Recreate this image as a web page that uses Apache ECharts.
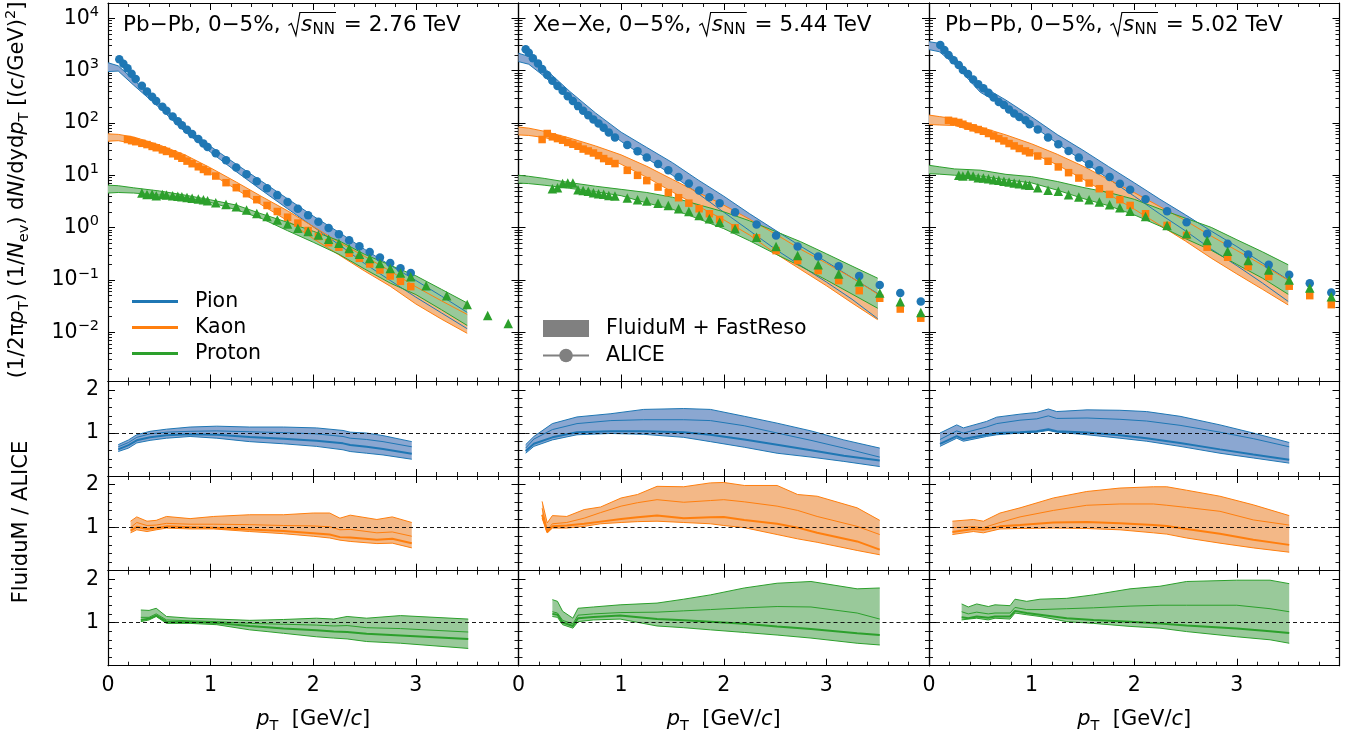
<!DOCTYPE html>
<html><head><meta charset="utf-8">
<script src="https://cdn.jsdelivr.net/npm/echarts@6/dist/echarts.min.js"></script>
<style>html,body{margin:0;padding:0;background:#fff}#c{width:1359px;height:740px}</style>
</head><body><div id="c"></div>
<script>
// ---------------- DATA ----------------
const SPECIES = ['Pion', 'Kaon', 'Proton'];
const PANEL_SYSTEMS = ['Pb−Pb, 0−5%, ', 'Xe−Xe, 0−5%, ', 'Pb−Pb, 0−5%, '];
const PANEL_ENERGIES = ['2.76', '5.44', '5.02'];
const LOG_DECADES = [-2, -1, 0, 1, 2, 3, 4];      // tick labels 10^n
const RATIO_TICK_LABELS = [1, 2];
const PT_TICK_LABELS = [0, 1, 2, 3];

// ALICE spectra, Pb-Pb 2.76 TeV
const pt276 = [0.11,0.15,0.19,0.23,0.27,0.33,0.38,0.43,0.47,0.53,0.57,0.63,0.68,0.72,0.77,0.82,0.88,0.93,0.97,
  1.05,1.15,1.25,1.35,1.45,1.55,1.65,1.75,1.85,1.95,2.05,2.15,2.25,2.35,2.45,2.55,2.65,2.75,2.85,2.95,3.1,3.3,3.5,3.7,3.9];
const pion276 = [1640,1350,1100,871,692,513,398,316,263,204,170,132,107,90.2,74.1,61.0,49.0,40.3,34.7,
  26.3,19.3,14.1,10.5,7.67,5.62,4.17,3.09,2.29,1.72,1.29,0.977,0.750,0.575,0.442,0.343,0.269,0.211,0.168,0.135,null,null,null,null,null];
const kaon276 = [null,null,48.1,45.7,43.7,40.7,38.5,35.5,33.5,30.5,28.5,25.7,23.2,21.1,18.6,16.6,14.5,12.9,11.7,
  9.66,7.21,5.78,4.44,3.41,2.65,2.03,1.58,1.22,0.879,0.676,0.513,0.422,0.324,0.259,0.202,0.155,0.119,0.094,0.0745,null,null,null,null,null];
const proton276 = [null,null,null,null,null,4.57,4.27,4.32,4.07,4.27,4.17,4.07,3.98,3.89,3.76,3.63,3.51,3.39,3.27,
  2.99,2.75,2.51,2.17,1.86,1.62,1.40,1.175,0.970,0.838,0.724,0.598,0.501,0.398,0.309,0.257,0.207,0.166,0.136,0.115,0.0776,0.0501,0.0339,0.0209,0.0148];

// ALICE spectra, Xe-Xe 5.44 TeV
const pt544 = [0.07,0.10,0.14,0.19,0.23,0.28,0.33,0.38,0.43,0.48,0.53,0.58,0.63,0.68,0.73,0.78,0.83,0.88,0.94,
  1.06,1.16,1.25,1.36,1.46,1.56,1.66,1.76,1.86,1.96,2.11,2.32,2.51,2.72,2.92,3.12,3.32,3.52,3.72,3.92];
const pion544 = [2550,2190,1710,1370,1070,820,638,505,410,324,263,209,170,140,116,97.7,80.4,65.5,52.5,
  38.0,28.8,21.9,16.4,12.4,9.25,6.92,5.13,3.80,2.93,1.97,1.15,0.708,0.437,0.279,0.182,0.119,0.0802,0.0562,0.0389];
const kaon544 = [null,null,null,null,48.1,62.7,54.1,50.1,46.7,42.2,39.1,35.8,31.6,29.1,26.6,23.7,20.8,18.5,16.7,
  12.4,9.95,7.89,5.94,4.65,3.72,2.93,2.29,1.84,1.43,0.991,0.637,0.363,0.234,0.151,0.097,0.0624,0.0447,0.0278,0.0186];
const proton544 = [null,null,null,null,null,null,5.53,5.78,6.92,7.08,7.08,5.30,5.13,4.92,4.65,4.45,4.31,4.12,4.00,
  3.66,3.41,3.21,2.93,2.65,2.29,2.03,1.71,1.48,1.27,0.948,0.655,0.435,0.292,0.194,0.130,0.0927,0.0562,0.0384,0.0240];

// ALICE spectra, Pb-Pb 5.02 TeV
const pt502 = [0.11,0.15,0.19,0.24,0.29,0.33,0.38,0.43,0.48,0.53,0.58,0.63,0.68,0.73,0.78,0.83,0.88,0.94,0.98,
  1.06,1.16,1.26,1.36,1.46,1.56,1.66,1.76,1.86,1.96,2.11,2.32,2.51,2.71,2.91,3.11,3.31,3.51,3.71,3.92];
const pion502 = [3080,2470,1980,1580,1270,1020,857,676,550,457,376,307,251,219,180,151,130,112,94.4,
  74.6,52.5,38.9,29.1,21.7,16.2,12.4,9.25,6.90,5.30,3.47,2.06,1.26,0.759,0.490,0.305,0.196,0.126,0.0861,0.0575];
const kaon502 = [null,null,112,107,102,94.4,86.5,80.4,74.6,69.2,62.7,56.2,50.1,45.2,40.3,36.3,32.4,29.1,26.9,
  23.3,18.5,14.4,11.2,8.83,7.08,5.53,4.31,3.41,2.65,1.84,1.10,0.708,0.422,0.271,0.180,0.116,0.0759,0.0501,0.0337];
const proton502 = [null,null,null,null,9.95,9.66,10.3,9.66,8.99,8.83,8.61,8.24,7.98,7.64,7.41,7.10,6.90,6.61,6.41,
  5.78,5.14,4.92,4.25,3.82,3.41,3.07,2.74,2.39,2.06,1.63,1.10,0.759,0.566,0.353,0.234,0.155,0.100,0.0703,0.0479];

// FluiduM + FastReso model bands (lower / upper edge)
const MODEL_PT = [0,0.1,0.25,0.5,0.75,1.0,1.25,1.5,1.75,2.0,2.25,2.5,2.75,3.0,3.25,3.5];
const m276PionLo = [955,977,525,195,67.6,27.5,11.7,5.13,2.29,1.035,0.473,0.206,0.0977,0.0468,0.0234,0.0117];
const m276PionHi = [1410,1230,661,245,85.1,35.5,16.2,7.59,3.55,1.66,0.813,0.385,0.191,0.0977,0.049,0.024];
const m276KaonLo = [44.7,45.7,40.7,30.9,19.5,10.7,5.37,2.69,1.35,0.617,0.302,0.148,0.0759,0.0347,0.0178,0.00955];
const m276KaonHi = [61.7,60.3,53.7,38.0,24.5,13.8,7.41,3.89,2.09,1.047,0.525,0.282,0.148,0.0741,0.0398,0.0219];
const m276ProtonLo = [4.57,4.68,4.57,4.17,3.72,3.02,2.19,1.48,0.871,0.525,0.309,0.162,0.0871,0.0525,0.0269,0.0135];
const m276ProtonHi = [6.46,6.31,5.75,5.01,4.17,3.39,2.69,1.82,1.26,0.851,0.562,0.309,0.191,0.120,0.0661,0.0363];
const m544PionLo = [1480,1320,776,275,106,44.3,21.2,10.0,4.47,1.97,0.877,0.389,0.187,0.0912,0.0427,0.0182];
const m544PionHi = [2140,1860,1120,398,155,66.5,33.9,17.4,8.13,3.98,1.85,0.897,0.440,0.223,0.110,0.0550];
const m544KaonLo = [58.9,57.5,52.5,40.7,26.9,16.2,9.12,4.79,2.57,1.41,0.724,0.324,0.158,0.0776,0.0363,0.0174];
const m544KaonHi = [83.2,79.4,69.2,51.3,36.3,24.5,14.8,8.32,4.68,2.69,1.45,0.759,0.385,0.209,0.110,0.0537];
const m544ProtonLo = [7.08,6.92,6.46,5.62,4.84,4.07,2.95,2.24,1.48,0.955,0.562,0.316,0.182,0.100,0.0537,0.0288];
const m544ProtonHi = [10.0,9.55,8.71,7.24,6.17,5.37,4.68,3.80,2.75,2.0,1.35,0.851,0.537,0.316,0.184,0.108];
const m502PionLo = [2510,2290,1320,384,200,91.0,40.6,18.7,8.51,3.98,1.82,0.863,0.387,0.187,0.0871,0.0389];
const m502PionHi = [3550,3310,1780,527,272,130,59.7,30.1,14.6,7.19,3.48,1.75,0.857,0.434,0.210,0.100];
const m502KaonLo = [93.3,91.2,89.1,64.6,42.7,26.7,15.8,8.45,4.33,2.25,1.11,0.551,0.261,0.130,0.0661,0.0333];
const m502KaonHi = [141,132,120,83.2,58.9,39.8,25.1,14.9,8.30,4.66,2.51,1.36,0.689,0.365,0.192,0.0993];
const m502ProtonLo = [10.7,10.5,10.0,9.62,8.15,7.14,5.19,3.60,2.62,1.75,1.07,0.614,0.369,0.198,0.108,0.0532];
const m502ProtonHi = [15.5,14.5,13.2,12.5,10.4,9.38,7.59,5.85,4.68,3.47,2.26,1.51,1.01,0.585,0.344,0.195];

// FluiduM / ALICE ratio bands: pT, lower, upper, two inner curves
const r276PionPt = [0.1,0.2,0.28,0.41,0.57,0.80,1.06,1.38,1.71,2.03,2.29,2.36,2.52,2.68,2.96];
const r276PionLo = [0.57,0.65,0.77,0.83,0.88,0.92,0.88,0.80,0.75,0.69,0.61,0.57,0.53,0.49,0.39];
const r276PionHi = [0.73,0.84,0.96,1.04,1.09,1.14,1.16,1.14,1.14,1.12,1.06,1.02,1.0,0.94,0.80];
const r276PionA = [0.68,0.78,0.90,0.98,1.02,1.04,1.05,1.03,1.01,0.98,0.92,0.88,0.85,0.80,0.68];
const r276PionB = [0.62,0.72,0.83,0.90,0.95,0.97,0.96,0.91,0.87,0.82,0.76,0.72,0.68,0.63,0.52];
const r276KaonPt = [0.22,0.28,0.38,0.47,0.57,0.80,1.03,1.38,1.71,2.00,2.16,2.26,2.36,2.62,2.77,2.96];
const r276KaonLo = [0.88,0.95,0.91,0.95,0.99,0.97,0.97,0.91,0.86,0.80,0.76,0.71,0.68,0.63,0.64,0.53];
const r276KaonHi = [1.15,1.25,1.15,1.17,1.26,1.21,1.26,1.30,1.30,1.34,1.34,1.22,1.29,1.19,1.25,1.12];
const r276KaonA = [1.00,1.12,1.05,1.06,1.10,1.08,1.08,1.07,1.05,1.04,1.02,0.95,0.96,0.88,0.90,0.80];
const r276KaonB = [0.93,1.02,0.97,0.99,1.03,1.01,1.00,0.96,0.92,0.87,0.84,0.78,0.77,0.72,0.74,0.64];
const r276ProtonPt = [0.32,0.40,0.47,0.57,0.80,1.06,1.38,1.55,1.71,2.03,2.20,2.33,2.52,2.85,3.51];
const r276ProtonLo = [1.02,1.06,1.14,0.98,0.98,0.95,0.83,0.79,0.75,0.67,0.64,0.62,0.56,0.52,0.40];
const r276ProtonHi = [1.29,1.28,1.33,1.14,1.10,1.08,1.05,1.06,1.07,1.10,1.08,1.14,1.10,1.16,1.08];
const r276ProtonA = [1.12,1.12,1.20,1.06,1.04,1.02,0.98,0.97,0.96,0.94,0.92,0.93,0.88,0.86,0.78];
const r276ProtonB = [1.06,1.09,1.16,1.02,1.01,0.99,0.92,0.89,0.86,0.82,0.79,0.78,0.74,0.70,0.62];

const r544PionPt = [0.07,0.15,0.33,0.57,0.90,1.22,1.61,1.87,2.20,2.52,2.85,3.17,3.52];
const r544PionLo = [0.53,0.69,0.84,0.96,0.99,0.97,0.90,0.80,0.67,0.53,0.44,0.34,0.22];
const r544PionHi = [0.73,0.92,1.22,1.375,1.45,1.55,1.57,1.55,1.39,1.23,1.05,0.84,0.65];
const r544PionA = [0.65,0.86,1.08,1.22,1.29,1.31,1.31,1.29,1.17,1.00,0.83,0.65,0.44];
const r544PionB = [0.58,0.75,0.90,1.02,1.04,1.04,1.02,0.96,0.85,0.73,0.60,0.47,0.36];
const r544KaonPt = [0.23,0.28,0.33,0.47,0.64,0.80,1.00,1.16,1.35,1.61,1.87,2.00,2.20,2.52,2.72,2.91,3.30,3.52];
const r544KaonLo = [1.22,0.88,0.99,0.99,1.03,1.09,1.12,1.14,1.15,1.12,1.09,1.05,1.00,0.84,0.74,0.66,0.47,0.37];
const r544KaonHi = [1.61,1.11,1.28,1.26,1.42,1.48,1.69,1.77,1.96,1.95,2.04,2.05,1.98,1.98,1.77,1.73,1.46,1.17];
const r544KaonA = [1.45,0.95,1.09,1.12,1.22,1.35,1.50,1.58,1.65,1.59,1.63,1.65,1.60,1.50,1.40,1.26,1.03,0.84];
const r544KaonB = [1.30,0.90,1.03,1.05,1.09,1.14,1.20,1.24,1.28,1.22,1.24,1.25,1.18,1.09,1.00,0.88,0.68,0.49];
const r544ProtonPt = [0.33,0.38,0.43,0.53,0.58,0.73,0.99,1.35,1.61,1.87,2.20,2.52,2.85,3.30,3.52];
const r544ProtonLo = [1.14,1.12,0.95,0.87,1.02,1.06,1.08,0.92,0.88,0.83,0.77,0.71,0.64,0.52,0.48];
const r544ProtonHi = [1.53,1.49,1.26,1.10,1.33,1.36,1.41,1.45,1.54,1.64,1.80,1.91,1.95,1.78,1.80];
const r544ProtonA = [1.25,1.22,1.05,0.97,1.17,1.20,1.23,1.24,1.27,1.30,1.34,1.37,1.36,1.22,1.08];
const r544ProtonB = [1.20,1.18,1.00,0.92,1.10,1.13,1.16,1.08,1.05,1.02,0.97,0.91,0.85,0.75,0.71];

const r502PionPt = [0.107,0.27,0.335,0.56,0.66,0.887,1.05,1.163,1.244,1.54,1.86,2.12,2.446,2.835,3.16,3.51];
const r502PionLo = [0.69,0.88,0.81,0.92,0.96,1.0,1.02,1.06,1.02,0.96,0.88,0.81,0.69,0.53,0.42,0.30];
const r502PionHi = [1.0,1.19,1.12,1.27,1.37,1.44,1.48,1.56,1.50,1.54,1.53,1.50,1.39,1.19,1.0,0.78];
const r502PionA = [0.85,1.05,1.0,1.14,1.22,1.30,1.33,1.40,1.34,1.35,1.32,1.28,1.18,1.02,0.87,0.68];
const r502PionB = [0.75,0.93,0.86,0.96,1.0,1.02,1.04,1.09,1.04,1.01,0.95,0.88,0.77,0.62,0.50,0.38];
const r502KaonPt = [0.228,0.432,0.53,0.692,0.887,1.212,1.537,1.86,2.187,2.317,2.51,2.835,3.16,3.51];
const r502KaonLo = [0.84,0.91,0.88,0.97,0.98,0.99,0.98,0.95,0.88,0.85,0.76,0.64,0.53,0.43];
const r502KaonHi = [1.15,1.19,1.15,1.34,1.46,1.69,1.84,1.92,1.95,1.95,1.87,1.73,1.53,1.28];
const r502KaonA = [1.00,1.02,1.00,1.12,1.25,1.40,1.52,1.55,1.55,1.52,1.47,1.38,1.18,1.06];
const r502KaonB = [0.90,0.97,0.95,1.03,1.06,1.12,1.13,1.10,1.06,1.04,0.97,0.86,0.72,0.60];
const r502ProtonPt = [0.318,0.383,0.465,0.578,0.643,0.79,0.838,0.952,1.082,1.342,1.602,1.959,2.25,2.51,2.999,3.323,3.51];
const r502ProtonLo = [1.06,1.08,1.10,1.06,1.10,1.08,1.22,1.18,1.14,1.02,0.98,0.91,0.87,0.79,0.67,0.60,0.52];
const r502ProtonHi = [1.43,1.36,1.43,1.37,1.41,1.39,1.54,1.49,1.54,1.56,1.64,1.78,1.84,1.95,1.98,1.98,1.90];
const r502ProtonA = [1.25,1.20,1.24,1.20,1.22,1.22,1.35,1.30,1.30,1.32,1.34,1.38,1.40,1.40,1.40,1.32,1.25];
const r502ProtonB = [1.12,1.10,1.14,1.11,1.14,1.14,1.27,1.22,1.18,1.10,1.06,1.02,0.98,0.93,0.86,0.80,0.76];

// ---------------- TABLES BUILT FROM THE ARRAYS ----------------
const PANELS = [
  { pt: pt276, alice: [pion276, kaon276, proton276],
    model: [[m276PionLo, m276PionHi], [m276KaonLo, m276KaonHi], [m276ProtonLo, m276ProtonHi]],
    ratio: [[r276PionPt, r276PionLo, r276PionHi, r276PionA, r276PionB],
            [r276KaonPt, r276KaonLo, r276KaonHi, r276KaonA, r276KaonB],
            [r276ProtonPt, r276ProtonLo, r276ProtonHi, r276ProtonA, r276ProtonB]] },
  { pt: pt544, alice: [pion544, kaon544, proton544],
    model: [[m544PionLo, m544PionHi], [m544KaonLo, m544KaonHi], [m544ProtonLo, m544ProtonHi]],
    ratio: [[r544PionPt, r544PionLo, r544PionHi, r544PionA, r544PionB],
            [r544KaonPt, r544KaonLo, r544KaonHi, r544KaonA, r544KaonB],
            [r544ProtonPt, r544ProtonLo, r544ProtonHi, r544ProtonA, r544ProtonB]] },
  { pt: pt502, alice: [pion502, kaon502, proton502],
    model: [[m502PionLo, m502PionHi], [m502KaonLo, m502KaonHi], [m502ProtonLo, m502ProtonHi]],
    ratio: [[r502PionPt, r502PionLo, r502PionHi, r502PionA, r502PionB],
            [r502KaonPt, r502KaonLo, r502KaonHi, r502KaonA, r502KaonB],
            [r502ProtonPt, r502ProtonLo, r502ProtonHi, r502ProtonA, r502ProtonB]] }
];

// ---------------- STYLE / LAYOUT ----------------
const FONT = 'DejaVu Sans';
const COLORS = ['#1f77b4', '#ff7f0e', '#2ca02c'];
const FILLS = ['#8ba7d1', '#f3b887', '#99c99a'];
const SYMBOLS = ['circle', 'rect', 'triangle'];
const SYMBOL_SIZES = [8.5, 7.5, 9.5];
const COL_LEFT = [108, 518.5, 929];
const COL_W = 410.5;
const ROWS = [[3, 378.5], [381.5, 94.5], [476, 94.7], [570.7, 95]];
const LOG_MIN = -2.94, LOG_MAX = 4.29;
const RATIO_MIN = 0, RATIO_MAX = 2.2;
const LOG_MINOR = [];
for (let n = -3; n <= 4; n++) for (let k = 2; k <= 9; k++) {
  const v = n + Math.log10(k); if (v > LOG_MIN && v < LOG_MAX) LOG_MINOR.push(v);
}
const RATIO_MAJOR = [0, 1, 2];
const RATIO_MINOR = [0.2, 0.4, 0.6, 0.8, 1.2, 1.4, 1.6, 1.8, 2.2];

const L = v => Math.log10(v);
function pairs(xs, ys, log) {
  const out = [];
  xs.forEach((x, i) => { if (ys[i] != null) out.push([x, log ? L(ys[i]) : ys[i]]); });
  return out;
}
function supNum(e) { return e < 0 ? '−' + (-e) : String(e); }

const grids = [], xAxes = [], yAxes = [], series = [];
const lineAxis = { show: true, onZero: false, lineStyle: { color: '#000', width: 1.2 } };

for (let r = 0; r < 4; r++) for (let c = 0; c < 3; c++) {
  const g = r * 3 + c;
  grids.push({ left: COL_LEFT[c], top: ROWS[r][0], width: COL_W, height: ROWS[r][1] });
  ['bottom', 'top'].forEach(pos => {
    xAxes.push({
      type: 'value', gridIndex: g, position: pos, min: 0, max: 4, interval: 1,
      axisLine: lineAxis,
      axisTick: { show: true, inside: true, length: 7, lineStyle: { color: '#000', width: 1 } },
      minorTick: { show: true, splitNumber: 5, length: 4, lineStyle: { color: '#000', width: 0.9 } },
      axisLabel: { show: pos === 'bottom' && r === 3, color: '#000', fontFamily: FONT, fontSize: 20.5, margin: 9,
        formatter: v => (PT_TICK_LABELS.indexOf(v) >= 0 ? String(v) : '') },
      splitLine: { show: false }, minorSplitLine: { show: false }
    });
  });
  const top = r === 0;
  ['left', 'right'].forEach(pos => {
    yAxes.push({
      type: 'value', gridIndex: g, position: pos,
      min: top ? LOG_MIN : RATIO_MIN, max: top ? LOG_MAX : RATIO_MAX,
      axisLine: lineAxis,
      axisTick: { show: true, inside: true, length: 7, lineStyle: { color: '#000', width: 1 },
        customValues: top ? LOG_DECADES : RATIO_MAJOR },
      axisLabel: { show: pos === 'left' && c === 0, color: '#000', fontFamily: FONT, fontSize: 20.5, margin: 9,
        customValues: top ? LOG_DECADES : RATIO_TICK_LABELS,
        formatter: top ? (v => '{b|10}{e|' + supNum(Math.round(v)) + '}') : (v => String(v)),
        rich: top ? {
          b: { fontSize: 20.5, fontFamily: FONT, color: '#000', lineHeight: 27 },
          e: { fontSize: 14.5, fontFamily: FONT, color: '#000', lineHeight: 15, verticalAlign: 'top' }
        } : undefined },
      splitLine: { show: false }
    });
    yAxes.push({
      type: 'value', gridIndex: g, position: pos,
      min: top ? LOG_MIN : RATIO_MIN, max: top ? LOG_MAX : RATIO_MAX,
      axisLine: { show: false, onZero: false },
      axisTick: { show: true, inside: true, length: 4, lineStyle: { color: '#000', width: 0.9 },
        customValues: top ? LOG_MINOR : RATIO_MINOR },
      axisLabel: { show: false }, splitLine: { show: false }
    });
  });
}

function bandSeries(g, xs, lo, hi, fill, log, z) {
  const pts = xs.map((x, i) => [x, log ? L(lo[i]) : lo[i], log ? L(hi[i]) : hi[i]]);
  return {
    type: 'custom', xAxisIndex: 2 * g, yAxisIndex: 4 * g, silent: true, z: z,
    data: pts, encode: { x: 0, y: [1, 2] },
    renderItem: (params, api) => {
      if (params.dataIndex !== 0) return null;
      const up = pts.map(p => api.coord([p[0], p[2]]));
      const dn = pts.slice().reverse().map(p => api.coord([p[0], p[1]]));
      return { type: 'polygon', shape: { points: up.concat(dn) }, style: { fill: fill, stroke: null } };
    }
  };
}
function lineSeries(g, xs, ys, color, width, log, z, extra) {
  return Object.assign({
    type: 'line', xAxisIndex: 2 * g, yAxisIndex: 4 * g, data: pairs(xs, ys, log),
    symbol: 'none', showSymbol: false, silent: true, z: z,
    lineStyle: { color: color, width: width }, itemStyle: { color: color }
  }, extra || {});
}

PANELS.forEach((P, c) => {
  // spectra (top row, grid index c)
  P.model.forEach((m, s) => {
    series.push(bandSeries(c, MODEL_PT, m[0], m[1], FILLS[s], true, 1));
    series.push(lineSeries(c, MODEL_PT, m[0], COLORS[s], 1, true, 2));
    series.push(lineSeries(c, MODEL_PT, m[1], COLORS[s], 1, true, 2));
  });
  P.alice.forEach((vals, s) => {
    series.push({
      type: 'scatter', name: 'ALICE ' + SPECIES[s], xAxisIndex: 2 * c, yAxisIndex: 4 * c,
      data: pairs(P.pt, vals, true), symbol: SYMBOLS[s], symbolSize: SYMBOL_SIZES[s],
      itemStyle: { color: COLORS[s], opacity: 1 }, z: 5, silent: true
    });
  });
  // ratios (rows 1..3)
  P.ratio.forEach((R, s) => {
    const g = (s + 1) * 3 + c;
    series.push(bandSeries(g, R[0], R[1], R[2], FILLS[s], false, 1));
    series.push(lineSeries(g, R[0], R[1], COLORS[s], 1, false, 2, {
      markLine: { silent: true, symbol: 'none', label: { show: false }, animation: false,
        lineStyle: { color: '#000', type: [4, 3], width: 0.9 }, data: [{ yAxis: 1 }], z: 6 }
    }));
    series.push(lineSeries(g, R[0], R[2], COLORS[s], 1, false, 2));
    series.push(lineSeries(g, R[0], R[3], COLORS[s], 1, false, 2));
    series.push(lineSeries(g, R[0], R[4], COLORS[s], 2, false, 2));
  });
});

// legend-only series
SPECIES.forEach((name, s) => series.push({
  type: 'line', name: name, xAxisIndex: 0, yAxisIndex: 0, data: [], symbol: 'none',
  lineStyle: { color: COLORS[s], width: 3 }, itemStyle: { color: COLORS[s] }
}));
series.push({ type: 'line', name: 'FluiduM + FastReso', xAxisIndex: 2, yAxisIndex: 4, data: [], symbol: 'none',
  lineStyle: { color: '#808080', width: 3 }, itemStyle: { color: '#808080' } });
series.push({ type: 'line', name: 'ALICE', xAxisIndex: 2, yAxisIndex: 4, data: [], symbol: 'circle', symbolSize: 11,
  lineStyle: { color: '#808080', width: 2.2 }, itemStyle: { color: '#808080' } });

// ---------------- TEXT DECORATION ----------------
const mctx = document.createElement('canvas').getContext('2d');
function tw(str, size, italic) {
  mctx.font = (italic ? 'italic ' : '') + size + 'px "' + FONT + '"';
  return mctx.measureText(str).width;
}
const TITLE_X = [123, 533, 945];
const TS = 21.5, SUBS = 15, TY = 25;
const graphics = [];
PANEL_SYSTEMS.forEach((sys, c) => {
  let x = TITLE_X[c];
  graphics.push({ type: 'text', x: x, y: TY, style: { text: sys, fontSize: TS, fontFamily: FONT, fill: '#000', verticalAlign: 'middle' } });
  x += tw(sys, TS, false);
  const rx = x + 1;
  const sx = rx + 12.5;
  const sw = tw('s', TS, true);
  const nx = sx + sw + 0.5;
  const nw = tw('NN', SUBS, false);
  const endO = nx + nw + 1;
  graphics.push({ type: 'polyline', shape: { points: [[rx, 25.5], [rx + 3, 23.5], [rx + 7.5, 35.5], [rx + 11.5, 12.5], [endO, 12.5]] },
    style: { stroke: '#000', lineWidth: 1.2, fill: null } });
  graphics.push({ type: 'text', x: sx, y: TY, style: { text: 's', fontSize: TS, fontStyle: 'italic', fontFamily: FONT, fill: '#000', verticalAlign: 'middle' } });
  graphics.push({ type: 'text', x: nx, y: TY + 5.5, style: { text: 'NN', fontSize: SUBS, fontFamily: FONT, fill: '#000', verticalAlign: 'middle' } });
  graphics.push({ type: 'text', x: endO + 1, y: TY, style: { text: ' = ' + PANEL_ENERGIES[c] + ' TeV', fontSize: TS, fontFamily: FONT, fill: '#000', verticalAlign: 'middle' } });
});

const richAxis = {
  n: { fontSize: 21, fontFamily: FONT, fill: '#000', lineHeight: 28 },
  i: { fontSize: 21, fontFamily: FONT, fontStyle: 'italic', fill: '#000', lineHeight: 28 },
  sub: { fontSize: 14.5, fontFamily: FONT, fill: '#000', lineHeight: 15, verticalAlign: 'bottom' },
  sup: { fontSize: 14.5, fontFamily: FONT, fill: '#000', lineHeight: 15, verticalAlign: 'top' }
};
graphics.push({ type: 'text', x: 18, y: 190, rotation: Math.PI / 2,
  style: { text: '{n|(1/2π}{i|p}{sub|T}{n|) (1/}{i|N}{sub|ev}{n|) d}{i|N}{n|/dyd}{i|p}{sub|T}{n| [(}{i|c}{n|/GeV)}{sup|2}{n|]}',
    rich: richAxis, align: 'center', verticalAlign: 'middle' } });
graphics.push({ type: 'text', x: 22, y: 522, rotation: Math.PI / 2,
  style: { text: 'FluiduM / ALICE', fontSize: 21, fontFamily: FONT, fill: '#000', align: 'center', verticalAlign: 'middle' } });
COL_LEFT.forEach(l => {
  graphics.push({ type: 'text', x: l + COL_W / 2, y: 720,
    style: { text: '{i|p}{sub|T}{n|  [GeV/}{i|c}{n|]}', rich: richAxis, align: 'center', verticalAlign: 'middle' } });
});

const option = {
  animation: false,
  backgroundColor: '#fff',
  grid: grids, xAxis: xAxes, yAxis: yAxes, series: series,
  legend: [
    { data: SPECIES.map(n => ({ name: n, icon: 'rect' })), orient: 'vertical', left: 127, top: 286,
      itemWidth: 46, itemHeight: 3, itemGap: 5,
      selectedMode: false, textStyle: { fontSize: 20.5, fontFamily: FONT, color: '#000', padding: [0, 0, 0, 12] } },
    { data: [{ name: 'FluiduM + FastReso', icon: 'rect' }, { name: 'ALICE' }], orient: 'vertical', left: 537, top: 313,
      itemWidth: 46, itemHeight: 17, itemGap: 6, selectedMode: false,
      textStyle: { fontSize: 20.5, fontFamily: FONT, color: '#000', padding: [0, 0, 0, 12] } }
  ],
  graphic: graphics
};
const chart = echarts.init(document.getElementById('c'), null, { renderer: 'canvas' });
chart.setOption(option);
</script>
</body></html>
